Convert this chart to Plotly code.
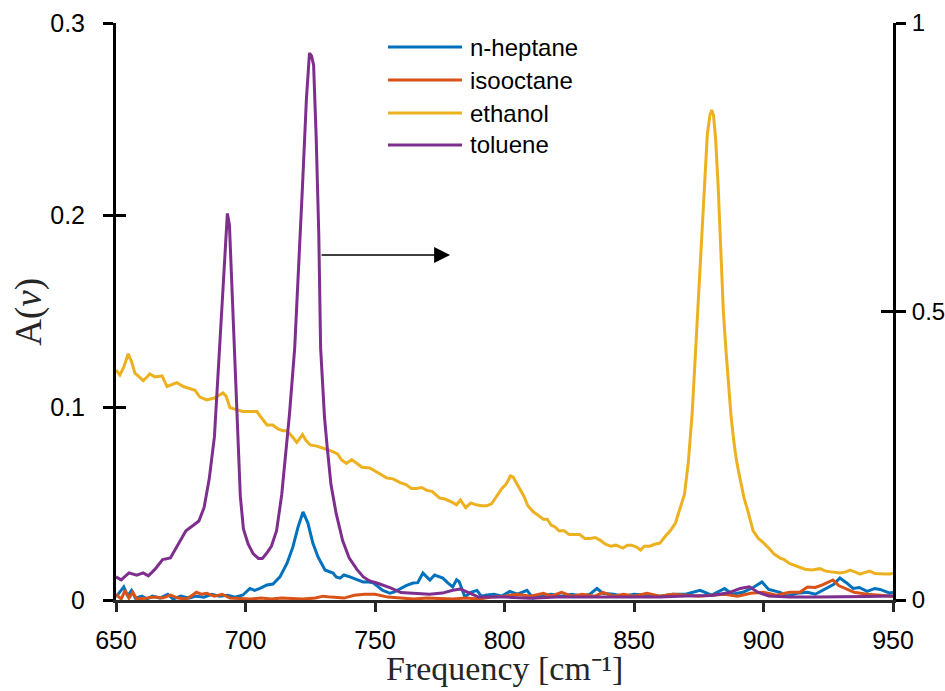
import plotly.graph_objects as go

# ---------------- data ----------------
heptane_x = [650, 651.5, 653, 654.5, 656, 657.5, 660, 662, 664, 667, 670, 672, 675, 678, 681, 684, 687, 690, 693, 696,
             699, 701.7, 703.5, 705.6, 708.3, 710.6, 713.3, 716, 718.3, 720.3, 722.2, 724.1, 726, 728, 730.7, 733.8,
             735, 736.5, 738, 740.3, 742.5, 745.4, 747, 749.2, 753, 755.8, 757.5, 759.7, 762, 764.7, 766.5, 768.5,
             771.2, 773, 776.2, 778, 780, 781.5, 782.5, 784.7, 787, 789.4, 791, 793.2, 796, 799, 802, 805, 808.7, 811,
             814, 818, 822, 826, 830, 833, 835.7, 838, 842, 846, 850, 855, 860, 865, 870, 875.5, 880, 885, 888, 892,
             896, 899.4, 902, 906.4, 909, 913, 917, 920, 924, 927, 929.5, 932, 934.6, 937, 940, 943, 945, 948.8, 950]
heptane_y = [0.0016, 0.004, 0.0068, 0.002, 0.005, 0.001, 0.002, 0.0005, 0.002, 0.001, 0.003, 0.0005, 0.002, 0.001,
             0.002, 0.0015, 0.003, 0.002, 0.0025, 0.0015, 0.0026, 0.006, 0.005, 0.006, 0.0078, 0.0083, 0.012, 0.019,
             0.0276, 0.038, 0.0458, 0.040, 0.0296, 0.0224, 0.0156, 0.014, 0.012, 0.0114, 0.013, 0.012, 0.011, 0.0094,
             0.0095, 0.009, 0.005, 0.0035, 0.0042, 0.006, 0.0075, 0.0088, 0.009, 0.014, 0.0104, 0.013, 0.0114, 0.009,
             0.0068, 0.0105, 0.0095, 0.0016, 0.004, 0.005, 0.002, 0.0026, 0.003, 0.002, 0.0045, 0.003, 0.005, 0.001,
             0.002, 0.003, 0.002, 0.003, 0.002, 0.003, 0.006, 0.0035, 0.003, 0.002, 0.003, 0.0025, 0.002, 0.003,
             0.003, 0.005, 0.0025, 0.006, 0.003, 0.004, 0.0065, 0.0094, 0.0055, 0.004, 0.002, 0.0035, 0.004, 0.003,
             0.006, 0.008, 0.0114, 0.009, 0.006, 0.0065, 0.0045, 0.006, 0.0055, 0.0036, 0.004]

isooctane_x = [650, 652, 653.5, 655, 656.5, 658, 662, 665, 668, 671, 674, 677, 679, 681, 683, 685, 688, 691, 694, 698,
               702, 706, 710, 714, 718, 722, 727, 730, 733, 738, 742, 746, 750, 755, 760, 765, 770, 775, 780, 785,
               790, 795, 800, 805, 810, 815, 818, 822, 826, 830, 835, 838, 842, 846, 850, 855, 860, 865, 870, 875,
               880, 885, 890, 895, 900, 905, 910, 914, 917, 920, 923, 926.8, 929, 932, 935, 940, 945, 950]
isooctane_y = [0.003, 0.0005, 0.005, 0.001, 0.004, 0.0005, 0.001, 0.0015, 0.001, 0.0025, 0.001, 0.0005, 0.002, 0.004,
               0.003, 0.0035, 0.002, 0.003, 0.001, 0.0008, 0.0005, 0.001, 0.0005, 0.001, 0.0008, 0.0005, 0.001,
               0.002, 0.0015, 0.001, 0.0025, 0.003, 0.003, 0.0015, 0.001, 0.0005, 0.001, 0.0008, 0.0005, 0.001,
               0.0005, 0.0015, 0.002, 0.003, 0.002, 0.0035, 0.002, 0.004, 0.002, 0.003, 0.002, 0.004, 0.002, 0.003,
               0.002, 0.0035, 0.002, 0.003, 0.0025, 0.002, 0.0025, 0.003, 0.002, 0.0035, 0.004, 0.0025, 0.004,
               0.004, 0.0068, 0.0065, 0.008, 0.0104, 0.0075, 0.0056, 0.004, 0.003, 0.0025, 0.002]

ethanol_x = [650, 651.5, 653, 654.7, 656, 657.3, 659, 660.5, 662, 663, 665, 667.8, 669.7, 671.5, 673.5, 676, 678.6,
             680.5, 682.4, 685, 688, 691.3, 692.5, 694, 696.5, 699, 702, 704.4, 706, 708.3, 710.5, 712.5, 714.5, 716,
             718, 719.8, 721, 722, 723.3, 725, 727.5, 730, 732, 733.8, 735.5, 737, 739, 741, 743, 745, 748, 750,
             752.5, 754.6, 757, 759.7, 762, 764, 766, 768, 770, 772, 775, 777, 779.5, 781.5, 783, 785, 787, 789, 791,
             793.2, 795, 797, 799, 800.5, 802.3, 803.3, 804.5, 806, 807.5, 809, 811, 813, 815, 816.5, 818, 819.5,
             821, 823, 825, 827, 829, 831, 833, 835, 837, 839, 841, 843, 845.7, 847.5, 849, 851, 852.5, 854, 856, 858,
             860, 862, 864, 866, 868, 869.5, 871, 872.5, 874, 875.5, 877, 878.3, 879.3, 880, 880.7, 881.5, 882.5,
             883.5, 884.5, 885.5, 886.5, 887.5, 888.5, 889.5, 890.5, 891.5, 892.5, 893.6, 895, 896, 898, 899.8, 902,
             904, 906.4, 908, 910, 912, 914, 916, 918.7, 921.8, 924, 927, 929.5, 931.5, 933.4, 935.5, 937.3, 939,
             941, 943, 945, 947, 948.8, 950]
ethanol_y = [0.1196, 0.117, 0.121, 0.128, 0.124, 0.118, 0.116, 0.114, 0.116, 0.1175, 0.116, 0.1165, 0.111, 0.112,
             0.113, 0.111, 0.110, 0.109, 0.1055, 0.104, 0.105, 0.1077, 0.106, 0.100, 0.099, 0.098, 0.098, 0.098,
             0.095, 0.091, 0.091, 0.089, 0.088, 0.088, 0.085, 0.082, 0.084, 0.086, 0.083, 0.0806, 0.080, 0.079,
             0.078, 0.077, 0.076, 0.073, 0.071, 0.073, 0.071, 0.069, 0.0686, 0.067, 0.065, 0.0634, 0.063, 0.061,
             0.060, 0.058, 0.058, 0.0585, 0.057, 0.0565, 0.053, 0.0525, 0.051, 0.0495, 0.052, 0.048, 0.0505, 0.0495,
             0.049, 0.049, 0.050, 0.054, 0.058, 0.060, 0.0645, 0.064, 0.061, 0.058, 0.054, 0.049, 0.046, 0.044,
             0.042, 0.042, 0.039, 0.038, 0.036, 0.036, 0.034, 0.034, 0.034, 0.032, 0.032, 0.0325, 0.031, 0.029,
             0.028, 0.0285, 0.027, 0.0285, 0.0285, 0.0275, 0.026, 0.028, 0.028, 0.029, 0.0296, 0.033, 0.036, 0.040,
             0.048, 0.055, 0.072, 0.098, 0.135, 0.175, 0.215, 0.242, 0.252, 0.2548, 0.252, 0.240, 0.215, 0.185,
             0.150, 0.130, 0.110, 0.095, 0.083, 0.073, 0.066, 0.059, 0.053, 0.048, 0.041, 0.036, 0.032, 0.030, 0.027,
             0.024, 0.0218, 0.021, 0.019, 0.018, 0.017, 0.016, 0.0156, 0.0163, 0.015, 0.0145, 0.014, 0.0145, 0.0156,
             0.0145, 0.0135, 0.0142, 0.015, 0.0138, 0.0135, 0.0135, 0.0135, 0.014]

# toluene is read against the right-hand axis (0 .. 1)
toluene_x = [650, 652, 655, 658, 660.5, 662.5, 665, 668, 671, 673.5, 677, 680, 682, 684, 686, 688, 689.5, 691, 692.3,
             693, 693.8, 695, 696, 697, 698, 699.2, 701, 703, 705, 706.5, 708, 710, 712, 714, 715.5, 717, 719, 720.5,
             722, 723.5, 724.7, 725.5, 726.3, 727.3, 728.3, 729, 730.5, 731.5, 733, 735, 737.5, 740, 743, 745.5, 748,
             751, 756, 760, 765, 771, 776, 780, 783, 786, 790, 795, 800, 810, 820, 830, 840, 850, 860, 870, 880, 887,
             891, 894.5, 898, 902, 910, 920, 930, 940, 950]
toluene_y = [0.040, 0.035, 0.047, 0.043, 0.047, 0.042, 0.053, 0.070, 0.073, 0.093, 0.120, 0.130, 0.137, 0.160, 0.210,
             0.283, 0.400, 0.533, 0.633, 0.670, 0.650, 0.517, 0.400, 0.267, 0.180, 0.123, 0.097, 0.080, 0.072, 0.072,
             0.080, 0.093, 0.120, 0.183, 0.250, 0.323, 0.437, 0.567, 0.717, 0.867, 0.948, 0.943, 0.927, 0.800, 0.633,
             0.437, 0.317, 0.267, 0.200, 0.150, 0.103, 0.073, 0.053, 0.040, 0.033, 0.029, 0.021, 0.013, 0.012, 0.010,
             0.012, 0.017, 0.019, 0.013, 0.005, 0.005, 0.005, 0.003, 0.005, 0.005, 0.005, 0.006, 0.005, 0.007, 0.008,
             0.013, 0.020, 0.023, 0.013, 0.007, 0.005, 0.005, 0.005, 0.006, 0.007]

names = ["n-heptane", "isooctane", "ethanol", "toluene"]
colors = ["#0072BD", "#D95319", "#EDB120", "#7E2F8E"]

x_ticks = [650, 700, 750, 800, 850, 900, 950]
yl_ticks = [0, 0.1, 0.2, 0.3]
yl_labels = ["0", "0.1", "0.2", "0.3"]
yr_ticks = [0, 0.5, 1]
yr_labels = ["0", "0.5", "1"]

x_title = "Frequency [cm⁻¹]"
y_title = "A(<i>ν</i>)"

# arrow pointing to the right-hand axis
arrow_x0, arrow_x1, arrow_y = 728.8, 779.0, 0.1794

# ---------------- figure ----------------
LW = 3
TICKFONT = dict(family="Liberation Sans, Arial, sans-serif", size=25, color="#000000")
SERIF = "Liberation Serif, Times New Roman, serif"

fig = go.Figure()
series = [(heptane_x, heptane_y, "y"), (isooctane_x, isooctane_y, "y"),
          (ethanol_x, ethanol_y, "y"), (toluene_x, toluene_y, "y2")]
for (xs, ys, ax), nm, col in zip(series, names, colors):
    fig.add_trace(go.Scatter(x=xs, y=ys, mode="lines", name=nm, yaxis=ax,
                             line=dict(color=col, width=LW), showlegend=False))

# empty traces to activate the inside-tick overlay axes
fig.add_trace(go.Scatter(x=[None], y=[None], yaxis="y3", showlegend=False, hoverinfo="skip"))
fig.add_trace(go.Scatter(x=[None], y=[None], yaxis="y4", showlegend=False, hoverinfo="skip"))

fig.update_layout(
    width=945, height=691,
    margin=dict(l=116, r=52, t=23, b=91, autoexpand=False),
    paper_bgcolor="white", plot_bgcolor="white",
    xaxis=dict(range=[650, 950], tickvals=x_ticks, ticktext=[str(v) for v in x_ticks],
               ticks="outside", ticklen=9, tickwidth=2.5, tickcolor="#262626",
               showline=True, linewidth=3, linecolor="#262626", showgrid=False, zeroline=False,
               tickfont=TICKFONT, ticklabelstandoff=7, automargin=False),
    yaxis=dict(range=[0, 0.3], tickvals=yl_ticks, ticktext=yl_labels,
               ticks="outside", ticklen=10, tickwidth=2.5, tickcolor="#000000",
               showline=True, linewidth=3, linecolor="#000000", showgrid=False, zeroline=False,
               tickfont=TICKFONT, ticklabelstandoff=13, automargin=False),
    yaxis2=dict(range=[0, 1], tickvals=yr_ticks, ticktext=yr_labels, overlaying="y", side="right", anchor="x",
                ticks="outside", ticklen=10, tickwidth=2.5, tickcolor="#000000",
                showline=True, linewidth=3, linecolor="#000000", showgrid=False, zeroline=False,
                tickfont=dict(family="Liberation Sans, Arial, sans-serif", size=24, color="#000000"),
                ticklabelstandoff=1, automargin=False),
    yaxis3=dict(range=[0, 0.3], tickvals=yl_ticks, overlaying="y", side="left", anchor="x",
                ticks="inside", ticklen=10, tickwidth=2.5, tickcolor="#000000",
                showticklabels=False, showline=False, showgrid=False, zeroline=False, automargin=False),
    yaxis4=dict(range=[0, 1], tickvals=yr_ticks, overlaying="y", side="right", anchor="x",
                ticks="inside", ticklen=12, tickwidth=2.5, tickcolor="#000000",
                showticklabels=False, showline=False, showgrid=False, zeroline=False, automargin=False),
    showlegend=False,
)

# axis titles (placed as annotations for exact positioning)
fig.add_annotation(x=0.5, y=-0.152, xref="paper", yref="paper", text=x_title, showarrow=False,
                   xanchor="center", yanchor="bottom", borderpad=0,
                   font=dict(family=SERIF, size=34, color="#262626"))
fig.add_annotation(x=-0.113, y=0.5, xref="paper", yref="paper", text=y_title, showarrow=False, textangle=-90,
                   xanchor="center", yanchor="middle", font=dict(family=SERIF, size=37, color="#262626"))

# arrow
fig.add_annotation(x=arrow_x1, y=arrow_y, ax=arrow_x0, ay=arrow_y, xref="x", yref="y", axref="x", ayref="y",
                   text="", showarrow=True, arrowhead=2, arrowsize=2.0, arrowwidth=1.6, arrowcolor="#000000")

# legend (drawn in paper coordinates, no box)
leg_x0, leg_x1, leg_tx = 0.350, 0.4453, 0.453
leg_rows = [0.9584, 0.9012, 0.8440, 0.7886]
for nm, col, yy in zip(names, colors, leg_rows):
    fig.add_shape(type="line", xref="paper", yref="paper", x0=leg_x0, x1=leg_x1, y0=yy, y1=yy,
                  line=dict(color=col, width=LW))
    fig.add_annotation(x=leg_tx, y=yy, xref="paper", yref="paper", text=nm, showarrow=False,
                       xanchor="left", yanchor="middle",
                       font=dict(family="Liberation Sans, Arial, sans-serif", size=24, color="#000000"))

fig.write_html("out.html", config={"displayModeBar": False},
               post_script="document.body.style.margin='0px';document.body.style.padding='0px';")
